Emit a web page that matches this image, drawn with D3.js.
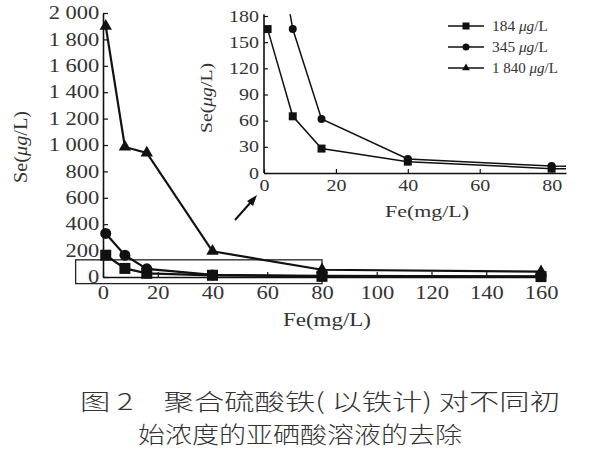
<!DOCTYPE html>
<html>
<head>
<meta charset="utf-8">
<script src="https://cdn.jsdelivr.net/npm/d3@7"></script>
<style>
  body { margin: 0; background: #fff; }
  svg text { font-family: "Liberation Serif", serif; fill: #333; }
</style>
</head>
<body>
<div id="graph"></div>
<script>
// Fe dose (mg/L) and residual Se (ug/L) for three initial concentrations
var fe = [1, 8, 16, 40, 80, 160];
var se184 = [165, 65, 28, 13, 5, 3];
var se345 = [330, 165, 62, 16, 8, 5];
var se1840 = [1900, 985, 940, 195, 55, 40];
var seriesNames = ["184", "345", "1 840"];

var xTicks = [0, 20, 40, 60, 80, 100, 120, 140, 160];
var yTicks = [0, 200, 400, 600, 800, 1000, 1200, 1400, 1600, 1800, 2000];
var yTickLabels = ["0", "200", "400", "600", "800", "1 000", "1 200", "1 400", "1 600", "1 800", "2 000"];
var insetXTicks = [0, 20, 40, 60, 80];
var insetYTicks = [0, 30, 60, 90, 120, 150, 180];
var zoomBox = [-10, 80, -50, 130]; // x0, x1, y0, y1 of the framed region

var captionLines = ["图 2　聚合硫酸铁( 以铁计) 对不同初", "始浓度的亚硒酸溶液的去除"];

var W = 600, H = 450, sx = 1.25;
var svg = d3.select("#graph").append("svg").attr("width", W).attr("height", H);

var series = [
  {name: seriesNames[0], values: se184, shape: "square"},
  {name: seriesNames[1], values: se345, shape: "circle"},
  {name: seriesNames[2], values: se1840, shape: "triangle"}
];

function marker(g, shape, size) {
  if (shape == "square") {
    g.append("rect").attr("x", -size/2).attr("y", -size/2).attr("width", size).attr("height", size);
  } else if (shape == "circle") {
    g.append("circle").attr("r", size/2);
  } else {
    g.append("path").attr("d", d3.symbol().type(d3.symbolTriangle).size(size*size*0.55));
  }
}

function styleAxis(g, fontSize) {
  g.attr("font-family", null);
  g.select(".domain").attr("stroke", "#111").attr("stroke-width", 1.6);
  g.selectAll(".tick line").attr("stroke", "#111").attr("stroke-width", 1.2);
  g.selectAll(".tick text").attr("font-size", fontSize)
    .style("font-family", "'Liberation Serif', serif")
    .attr("transform", "scale(" + sx + ",1)");
}

/* ---------- main chart ---------- */
var x = d3.scaleLinear().domain([0, 160]).range([103, 541]);
var y = d3.scaleLinear().domain([0, 2000]).range([277, 13]);

var xAxis = svg.append("g").attr("transform", "translate(0," + y(0) + ")")
  .call(d3.axisBottom(x).tickValues(xTicks).tickSizeInner(-5).tickSizeOuter(0).tickPadding(5));
styleAxis(xAxis, 18);
xAxis.selectAll(".tick text").attr("dy", "0.95em");

var yAxis = svg.append("g").attr("transform", "translate(" + x(0) + ",0)")
  .call(d3.axisLeft(y).tickValues(yTicks).tickSizeInner(-5).tickSizeOuter(0).tickPadding(3)
    .tickFormat(function(d, i) { return yTickLabels[i]; }));
styleAxis(yAxis, 18);

svg.append("text").attr("x", 327).attr("y", 326).attr("text-anchor", "middle")
  .attr("font-size", 18).attr("textLength", 88).attr("lengthAdjust", "spacingAndGlyphs")
  .text("Fe(mg/L)");

var yl = svg.append("text").attr("transform", "translate(27,147) rotate(-90)")
  .attr("text-anchor", "middle").attr("font-size", 18)
  .attr("textLength", 72).attr("lengthAdjust", "spacingAndGlyphs");
yl.append("tspan").text("Se(");
yl.append("tspan").attr("font-style", "italic").text("μg");
yl.append("tspan").text("/L)");

// framed low-concentration region
svg.append("rect")
  .attr("x", x(zoomBox[0])).attr("y", y(zoomBox[3]))
  .attr("width", x(zoomBox[1]) - x(zoomBox[0]))
  .attr("height", y(zoomBox[2]) - y(zoomBox[3]))
  .attr("fill", "none").attr("stroke", "#222").attr("stroke-width", 1.3);

var line = d3.line().x(function(d, i) { return x(fe[i]); }).y(function(d) { return y(d); });
series.forEach(function(s) {
  svg.append("path").datum(s.values).attr("d", line)
    .attr("fill", "none").attr("stroke", "#111").attr("stroke-width", 2.2);
  s.values.forEach(function(v, i) {
    var g = svg.append("g").attr("transform", "translate(" + x(fe[i]) + "," + y(v) + ")").attr("fill", "#111");
    marker(g, s.shape, 11);
  });
});

// arrow pointing to the inset
var arrow = svg.append("g").attr("transform", "translate(235,220)");
arrow.append("line").attr("x1", 0).attr("y1", 0).attr("x2", 16).attr("y2", -18)
  .attr("stroke", "#111").attr("stroke-width", 2);
arrow.append("path").attr("d", "M22,-25 L12,-19 L18,-14 Z").attr("fill", "#111");

/* ---------- inset ---------- */
var ix = d3.scaleLinear().domain([0, 84]).range([264, 566]);
var iy = d3.scaleLinear().domain([0, 180]).range([173, 16]);

svg.append("clipPath").attr("id", "insetClip").append("rect")
  .attr("x", ix(0)).attr("y", iy(182)).attr("width", ix(84) - ix(0)).attr("height", iy(0) - iy(182) + 2);

var ixAxis = svg.append("g").attr("transform", "translate(0," + iy(0) + ")")
  .call(d3.axisBottom(ix).tickValues(insetXTicks).tickSizeInner(-4).tickSizeOuter(0).tickPadding(4));
styleAxis(ixAxis, 16);
ixAxis.selectAll(".tick text").attr("dy", "0.85em");

var iyAxis = svg.append("g").attr("transform", "translate(" + ix(0) + ",0)")
  .call(d3.axisLeft(iy).tickValues(insetYTicks).tickSizeInner(-4).tickSizeOuter(0).tickPadding(4));
styleAxis(iyAxis, 16);
iyAxis.select(".domain").attr("d", "M0," + iy(0) + "V" + iy(182));

svg.append("text").attr("x", 427).attr("y", 217).attr("text-anchor", "middle")
  .attr("font-size", 17).attr("textLength", 84).attr("lengthAdjust", "spacingAndGlyphs")
  .text("Fe(mg/L)");
var iyl = svg.append("text").attr("transform", "translate(212,98) rotate(-90)")
  .attr("text-anchor", "middle").attr("font-size", 17)
  .attr("textLength", 70).attr("lengthAdjust", "spacingAndGlyphs");
iyl.append("tspan").text("Se(");
iyl.append("tspan").attr("font-style", "italic").text("μg");
iyl.append("tspan").text("/L)");

var iline = d3.line().x(function(d, i) { return ix(fe[i]); }).y(function(d) { return iy(d); });
var inset = svg.append("g").attr("clip-path", "url(#insetClip)");
series.slice(0, 2).forEach(function(s) {
  inset.append("path").datum(s.values).attr("d", iline)
    .attr("fill", "none").attr("stroke", "#111").attr("stroke-width", 1.5);
  s.values.forEach(function(v, i) {
    if (fe[i] > 84 || v > 180) return;
    var g = inset.append("g").attr("transform", "translate(" + ix(fe[i]) + "," + iy(v) + ")").attr("fill", "#111");
    marker(g, s.shape, 8);
  });
});

/* ---------- legend ---------- */
var legend = svg.append("g").attr("transform", "translate(448,26)");
series.forEach(function(s, i) {
  var row = legend.append("g").attr("transform", "translate(0," + (i * 21) + ")");
  row.append("line").attr("x1", 0).attr("x2", 36).attr("stroke", "#111").attr("stroke-width", 1.6);
  var m = row.append("g").attr("transform", "translate(18,0)").attr("fill", "#111");
  marker(m, s.shape, 7);
  var t = row.append("text").attr("x", 44).attr("y", 5).attr("font-size", 15);
  t.append("tspan").text(s.name + " ");
  t.append("tspan").attr("font-style", "italic").text("μg");
  t.append("tspan").text("/L");
  t.attr("textLength", i == 2 ? 66 : 56).attr("lengthAdjust", "spacingAndGlyphs");
});

/* ---------- caption ---------- */
svg.append("text").attr("x", 80).attr("y", 410)
  .attr("font-size", 23).style("font-family", "Noto Sans CJK SC").style("font-weight", 300)
  .attr("textLength", 480).attr("lengthAdjust", "spacingAndGlyphs")
  .text(captionLines[0]);
svg.append("text").attr("x", 138).attr("y", 443)
  .attr("font-size", 23).style("font-family", "Noto Sans CJK SC").style("font-weight", 300)
  .attr("textLength", 324).attr("lengthAdjust", "spacingAndGlyphs")
  .text(captionLines[1]);
</script>
</body>
</html>
